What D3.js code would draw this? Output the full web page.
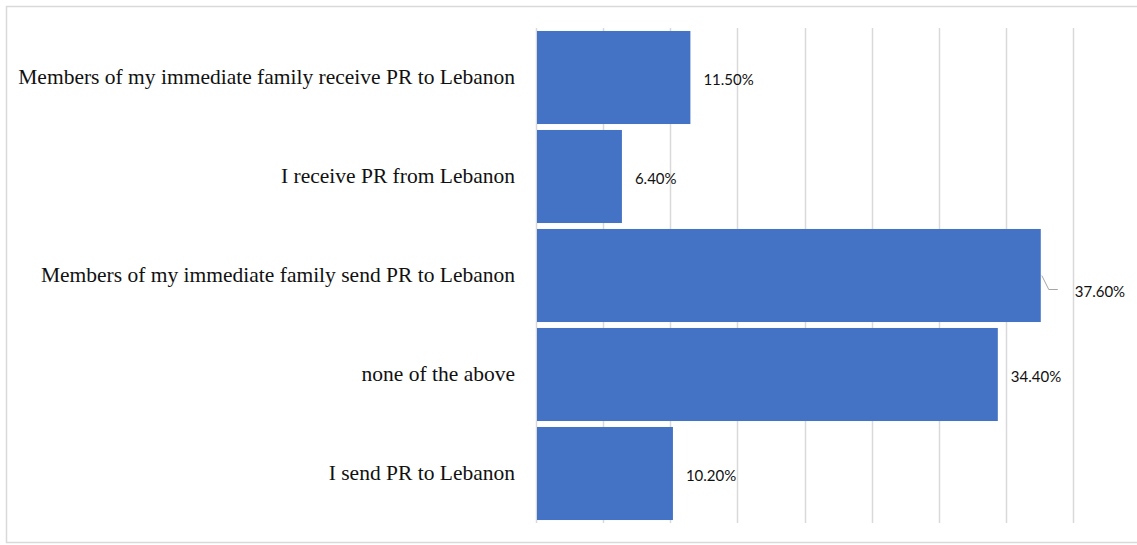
<!DOCTYPE html>
<html>
<head>
<meta charset="utf-8">
<script src="https://cdn.jsdelivr.net/npm/d3@7"></script>
<style>
  html, body { margin: 0; padding: 0; background: #fff; }
  svg { display: block; }
</style>
</head>
<body>
<svg id="chart" width="1137" height="545"></svg>
<script>
// Survey responses on PR (top to bottom)
const categories = [
  "Members of my immediate family receive PR to Lebanon",
  "I receive PR from Lebanon",
  "Members of my immediate family send PR to Lebanon",
  "none of the above",
  "I send PR to Lebanon"
];
const values = [11.5, 6.4, 37.6, 34.4, 10.2];
const valueLabels = ["11.50%", "6.40%", "37.60%", "34.40%", "10.20%"];
const xTicks = [0, 5, 10, 15, 20, 25, 30, 35, 40];

const svg = d3.select("#chart");
const W = 1137, H = 545;

// outer frame
svg.append("rect")
  .attr("x", 6.5).attr("y", 6.5)
  .attr("width", W).attr("height", 536)
  .attr("fill", "#fff").attr("stroke", "#d9d9d9").attr("stroke-width", 1.5);

const x = d3.scaleLinear().domain([0, 40]).range([536, 1073]);
const y = d3.scaleBand().domain(categories).range([28, 523])
  .paddingInner(0.06).paddingOuter(0.03);

// vertical gridlines
svg.append("g").selectAll("line").data(xTicks).join("line")
  .attr("x1", d => Math.round(x(d)) + 0.5)
  .attr("x2", d => Math.round(x(d)) + 0.5)
  .attr("y1", 28).attr("y2", 523)
  .attr("stroke", "#d9d9d9").attr("stroke-width", 1.5);

// bars
svg.append("g").selectAll("rect").data(categories).join("rect")
  .attr("x", x(0) + 1)
  .attr("y", d => y(d))
  .attr("width", (d, i) => x(values[i]) - x(0) - 1)
  .attr("height", y.bandwidth())
  .attr("fill", "#4472c4");

// category labels
svg.append("g").selectAll("text").data(categories).join("text")
  .attr("x", 515)
  .attr("y", d => y(d) + y.bandwidth() / 2 - 1)
  .attr("dy", "0.35em")
  .attr("text-anchor", "end")
  .attr("font-family", "'Liberation Serif', 'DejaVu Serif', serif")
  .attr("font-size", 21.5)
  .attr("fill", "#111")
  .text(d => d);

// value labels; the widest bar's label sits off to the side with a leader line
const labelG = svg.append("g");
categories.forEach((c, i) => {
  const cy = y(c) + y.bandwidth() / 2;
  const xe = x(values[i]);
  if (i === 2) {
    labelG.append("polyline")
      .attr("points", [[xe + 1, cy], [xe + 8, cy + 14], [xe + 17, cy + 14]].map(p => p.join(",")).join(" "))
      .attr("fill", "none").attr("stroke", "#a6a6a6").attr("stroke-width", 1);
    labelG.append("text")
      .attr("x", xe + 34).attr("y", cy + 16).attr("dy", "0.35em")
      .attr("font-family", "Lato, 'Open Sans', sans-serif")
      .attr("font-size", 15).attr("fill", "#111")
      .text(valueLabels[i]);
  } else {
    labelG.append("text")
      .attr("x", xe + 13).attr("y", cy + 2).attr("dy", "0.35em")
      .attr("font-family", "Lato, 'Open Sans', sans-serif")
      .attr("font-size", 15).attr("fill", "#111")
      .text(valueLabels[i]);
  }
});
</script>
</body>
</html>
